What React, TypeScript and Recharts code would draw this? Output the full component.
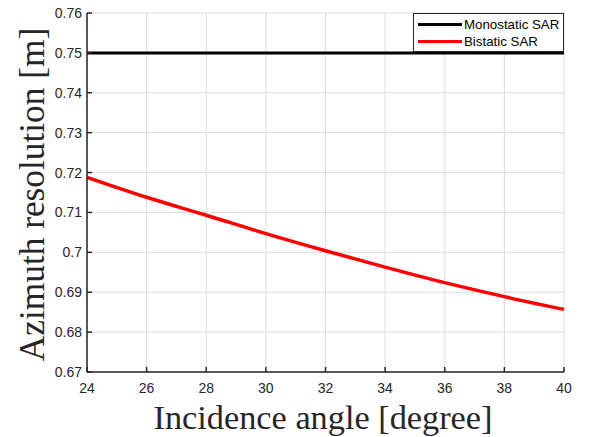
/** Azimuth resolution vs incidence angle: monostatic vs bistatic SAR. */

import { LineChart, Line, XAxis, YAxis, CartesianGrid, Legend } from 'recharts'

// incidence angle [degree]
const angles = [24, 26, 28, 30, 32, 34, 36, 38, 40]
// azimuth resolution [m]
const monostatic = [0.75, 0.75, 0.75, 0.75, 0.75, 0.75, 0.75, 0.75, 0.75]
const bistatic = [0.7188, 0.7138, 0.7093, 0.7047, 0.7004, 0.6963, 0.6924, 0.6889, 0.6857]

const xTicks = [24, 26, 28, 30, 32, 34, 36, 38, 40]
const yTicks = [0.67, 0.68, 0.69, 0.7, 0.71, 0.72, 0.73, 0.74, 0.75, 0.76]

const SERIES = [
  { key: 'mono', name: 'Monostatic SAR', color: '#000000', width: 3 },
  { key: 'bi', name: 'Bistatic SAR', color: '#ff0000', width: 3.5 },
]

const rows = angles.map((a, i) => ({ angle: a, mono: monostatic[i], bi: bistatic[i] }))

const AXIS_COLOR = '#262626'
const TICK_FONT = { fontSize: 14, fill: AXIS_COLOR, fontFamily: '"Liberation Sans", Arial, sans-serif' }
const LABEL_FONT = '"Liberation Serif", "Times New Roman", serif'

const fmt = (v: number) => String(+v.toFixed(2))

function LegendBox() {
  return (
    <div
      style={{
        width: 151,
        height: 39,
        background: '#fff',
        border: `1px solid ${AXIS_COLOR}`,
        boxSizing: 'border-box',
        padding: '2px 0 0 4px',
        fontFamily: '"Liberation Sans", Arial, sans-serif',
        fontSize: 13.3,
        color: '#000',
      }}
    >
      {SERIES.map((s) => (
        <div key={s.key} style={{ display: 'flex', alignItems: 'center', height: 17 }}>
          <span style={{ display: 'inline-block', width: 44, height: 3, background: s.color, marginRight: 2 }} />
          <span>{s.name}</span>
        </div>
      ))}
    </div>
  )
}

export default function App() {
  return (
    <div style={{ position: 'absolute', left: 0, top: 0, background: '#fff' }}>
      <LineChart width={595} height={437} data={rows} margin={{ top: 13, right: 31, bottom: 0, left: 0 }}>
        <CartesianGrid stroke="#dcdcdc" strokeWidth={1} />
        <XAxis
          dataKey="angle"
          type="number"
          domain={[24, 40]}
          ticks={xTicks}
          height={65}
          stroke={AXIS_COLOR}
          strokeWidth={1.5}
          tickSize={-5}
          tickMargin={16}
          tick={TICK_FONT}
          label={{
            content: (p: any) => {
              const vb = p.viewBox
              return (
                <text
                  x={vb.x + vb.width / 2 - 2.5}
                  y={vb.y + 57}
                  textAnchor="middle"
                  fontFamily={LABEL_FONT}
                  fontSize={34.3}
                  fill={AXIS_COLOR}
                >
                  Incidence angle [degree]
                </text>
              )
            },
          }}
        />
        <XAxis
          xAxisId="top"
          orientation="top"
          dataKey="angle"
          type="number"
          domain={[24, 40]}
          ticks={xTicks}
          height={0}
          stroke={AXIS_COLOR}
          strokeWidth={1.5}
          tickSize={-5}
          tick={() => <g />}
        />
        <YAxis
          type="number"
          domain={[0.67, 0.76]}
          ticks={yTicks}
          width={87}
          stroke={AXIS_COLOR}
          strokeWidth={1.5}
          tickSize={-5}
          tickMargin={10}
          tick={TICK_FONT}
          tickFormatter={fmt}
          label={{
            content: (p: any) => {
              const vb = p.viewBox
              const cy = vb.y + vb.height / 2 + 2
              return (
                <text
                  x={44}
                  y={cy}
                  transform={`rotate(-90 44 ${cy})`}
                  textAnchor="middle"
                  fontFamily={LABEL_FONT}
                  fontSize={35.3}
                  fill={AXIS_COLOR}
                >
                  Azimuth resolution [m]
                </text>
              )
            },
          }}
        />
        <YAxis
          yAxisId="right"
          orientation="right"
          type="number"
          domain={[0.67, 0.76]}
          ticks={yTicks}
          width={0}
          stroke={AXIS_COLOR}
          strokeWidth={1.5}
          tickSize={-5}
          tick={() => <g />}
        />
        {SERIES.map((s) => (
          <Line
            key={s.key}
            dataKey={s.key}
            name={s.name}
            stroke={s.color}
            strokeWidth={s.width}
            dot={false}
            type="monotone"
            isAnimationActive={false}
          />
        ))}
        <Legend
          layout="vertical"
          align="center"
          verticalAlign="middle"
          content={() => <LegendBox />}
          wrapperStyle={{ position: 'absolute', left: 413, top: 13, width: 151 }}
        />
      </LineChart>
    </div>
  )
}
